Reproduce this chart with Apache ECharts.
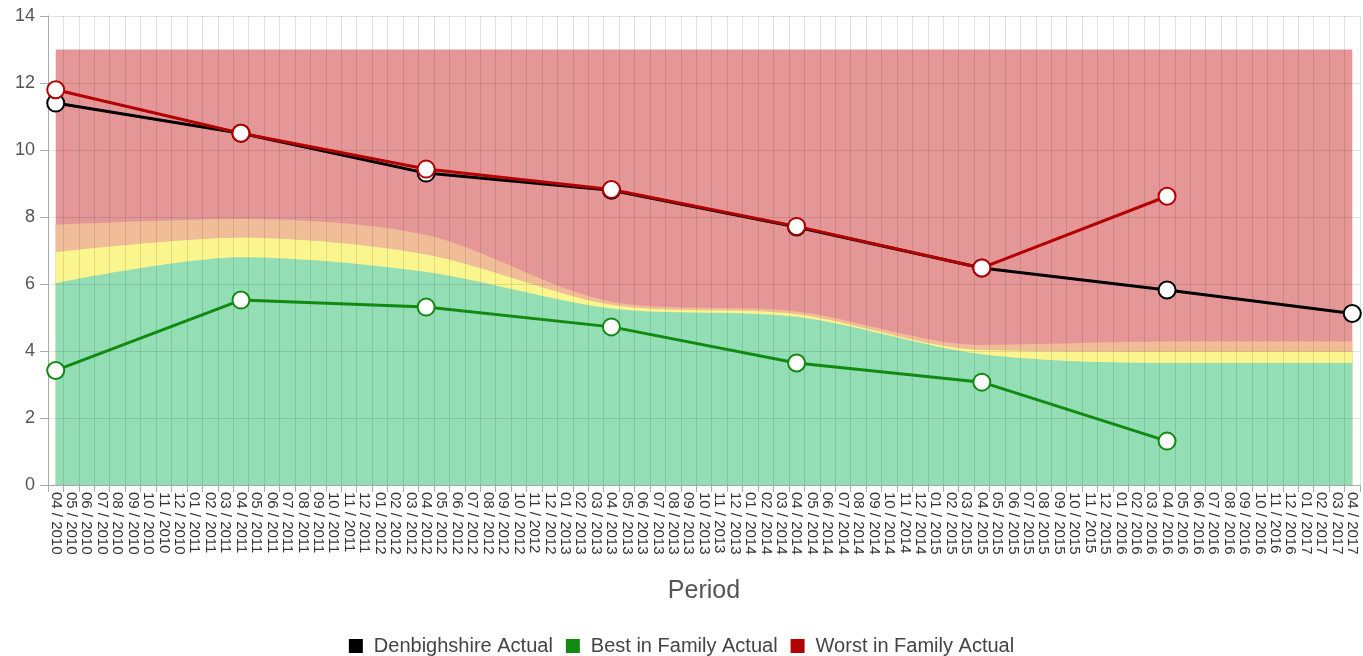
<!DOCTYPE html>
<html>
<head>
<meta charset="utf-8">
<script src="https://cdn.jsdelivr.net/npm/echarts@6/dist/echarts.min.js"></script>
<style>html,body{margin:0;padding:0;background:#fff}#c{width:1363px;height:656px}</style>
</head>
<body>
<div id="c"></div>
<script>
// Monthly categories 04/2010 .. 04/2017
const startYear = 2010, startMonth = 4, monthCount = 85;
const categories = [];
for (let i = 0; i < monthCount; i++) {
  const m = (startMonth - 1 + i) % 12 + 1;
  const y = startYear + Math.floor((startMonth - 1 + i) / 12);
  categories.push((m < 10 ? '0' + m : '' + m) + ' / ' + y);
}
// Yearly (April) readings, 2010..2017
const denbighshire = [11.4, 10.5, 9.31, 8.8, 7.7, 6.48, 5.82, 5.12];
const bestInFamily = [3.42, 5.52, 5.31, 4.72, 3.64, 3.07, 1.31];
const worstInFamily = [11.8, 10.5, 9.43, 8.82, 7.72, 6.48, 8.62];
// Band tops (April each year)
const bandGreen  = [6.03, 6.8, 6.36, 5.27, 5.02, 3.9, 3.64, 3.64];
const bandYellow = [6.95, 7.38, 6.88, 5.38, 5.1, 4.03, 3.98, 3.98];
const bandOrange = [7.77, 7.94, 7.46, 5.47, 5.18, 4.18, 4.28, 4.28];
const bandRed    = [13, 13, 13, 13, 13, 13, 13, 13];
const yTicks = { min: 0, max: 14, interval: 2 };

function monthly(yearly) {
  const out = new Array(monthCount).fill(null);
  yearly.forEach((v, k) => { out[k * 12] = v; });
  return out;
}
function band(name, data, color) {
  return {
    name: name, type: 'line', data: monthly(data), connectNulls: true, smooth: 0.3,
    showSymbol: false, symbol: 'none', silent: true, z: 1,
    lineStyle: { width: 0 }, areaStyle: { color: color, opacity: 1 },
    itemStyle: { color: color }
  };
}
function actual(name, data, color) {
  return {
    name: name, type: 'line', data: monthly(data), connectNulls: true, z: 5,
    symbol: 'emptyCircle', symbolSize: 17, showSymbol: true,
    lineStyle: { color: color, width: 3 },
    itemStyle: { color: color, borderColor: color, borderWidth: 3 }
  };
}

const chart = echarts.init(document.getElementById('c'), null, { renderer: 'canvas' });
chart.setOption({
  animation: false,
  backgroundColor: '#fff',
  textStyle: { fontFamily: 'Liberation Sans, Arial, sans-serif' },
  grid: { left: 48, right: 3, top: 16, bottom: 171, containLabel: false },
  legend: {
    top: 631, left: 'center', icon: 'rect', itemWidth: 14, itemHeight: 14, itemGap: 13,
    data: ['Denbighshire Actual', 'Best in Family Actual', 'Worst in Family Actual'],
    itemStyle: { borderWidth: 0 },
    textStyle: { fontSize: 20, color: '#444', padding: [0, 0, 0, 6], fontFamily: 'Liberation Sans, Arial, sans-serif' }
  },
  xAxis: {
    type: 'category', data: categories, boundaryGap: true, z: 3,
    name: 'Period', nameLocation: 'middle', nameGap: 94,
    nameTextStyle: { fontSize: 25, color: '#555' },
    axisLine: { lineStyle: { color: '#aaa' } },
    axisTick: { show: true, length: 7, lineStyle: { color: '#aaa' }, interval: 0 },
    axisLabel: { interval: 0, rotate: -90, fontSize: 15, color: '#333', margin: 7 },
    splitLine: { show: true, interval: 0, lineStyle: { color: 'rgba(0,0,0,0.11)', width: 1 } }
  },
  yAxis: {
    type: 'value', min: yTicks.min, max: yTicks.max, interval: yTicks.interval, z: 3,
    axisLine: { show: true, lineStyle: { color: '#aaa' } },
    axisTick: { show: true, length: 8, lineStyle: { color: '#aaa' } },
    axisLabel: { fontSize: 18, color: '#555', margin: 13 },
    splitLine: { show: true, lineStyle: { color: 'rgba(0,0,0,0.11)', width: 1 } }
  },
  series: [
    band('red band', bandRed, '#e59798'),
    band('orange band', bandOrange, '#f1bd98'),
    band('yellow band', bandYellow, '#faf68d'),
    band('green band', bandGreen, '#94deb5'),
    actual('Denbighshire Actual', denbighshire, '#000000'),
    actual('Best in Family Actual', bestInFamily, '#118a11'),
    actual('Worst in Family Actual', worstInFamily, '#b30000')
  ]
});
</script>
</body>
</html>
